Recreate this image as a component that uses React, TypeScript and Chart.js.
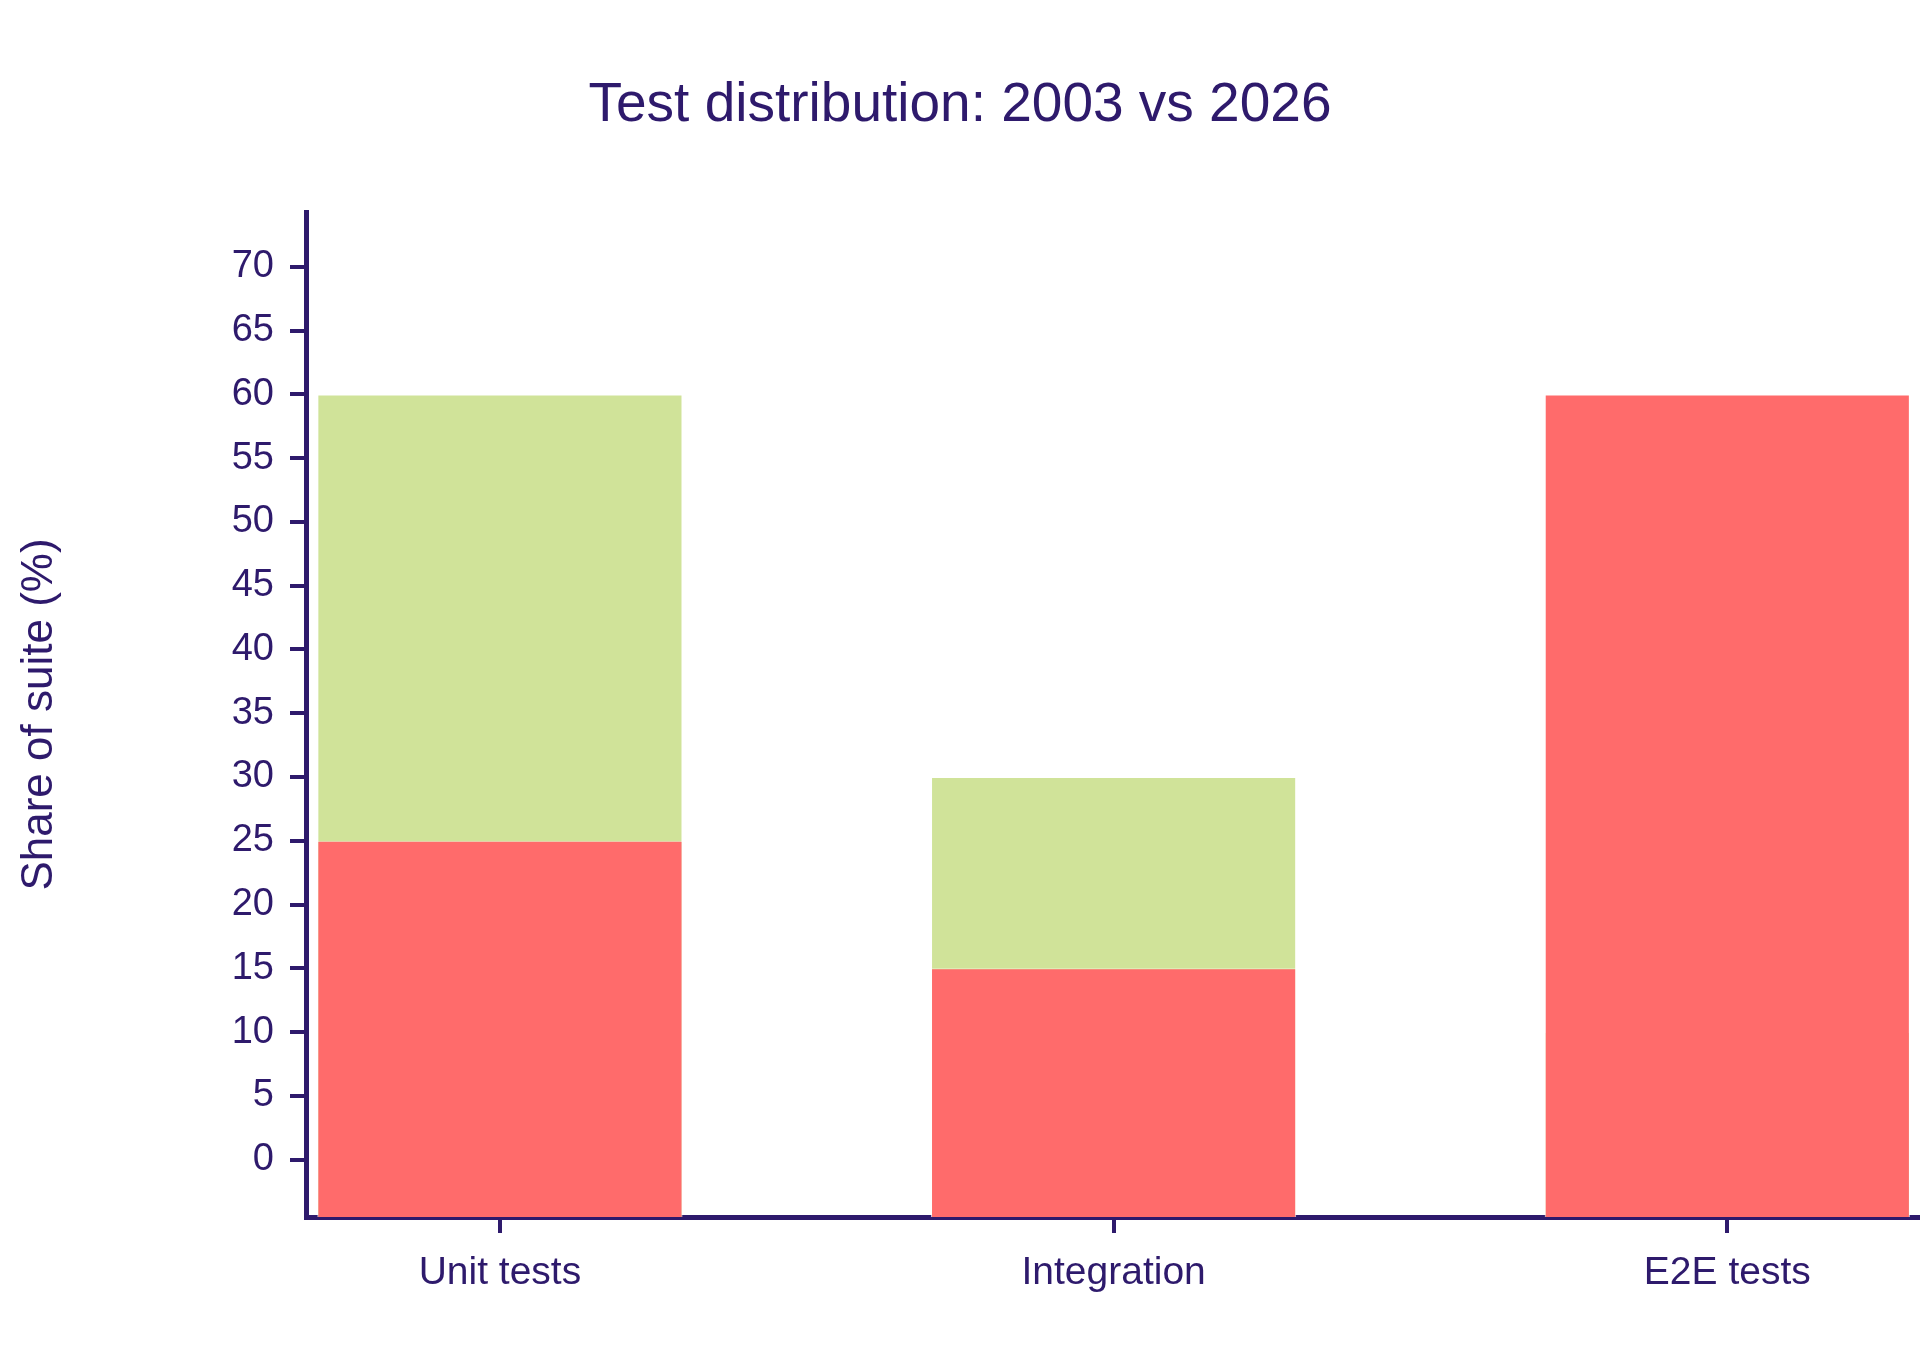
import React, { useEffect, useRef } from "react";
import { Chart, registerables } from "chart.js";

Chart.register(...registerables);

// categories and values
const CATEGORIES = ["Unit tests", "Integration", "E2E tests"];
const SHARE_2026 = [25, 15, 60];
const SHARE_2003 = [60, 30, 10];
const Y_TICKS = [0, 5, 10, 15, 20, 25, 30, 35, 40, 45, 50, 55, 60, 65, 70];

const Y_MIN = -4.5;
const Y_MAX = 74.3;
const X_MIN = -0.316;
const X_MAX = 2.314;

const INK = "rgb(46, 26, 108)";
const RED = "rgb(255, 107, 107)";
const GREEN = "rgb(208, 227, 153)";
const FONT = "'Liberation Sans', Arial, Helvetica, sans-serif";

const App: React.FC = () => {
  const canvasRef = useRef<HTMLCanvasElement>(null);
  const chartRef = useRef<Chart | null>(null);

  useEffect(() => {
    document.body.style.margin = "0";
    if (!canvasRef.current) return;
    if (chartRef.current) chartRef.current.destroy();

    const axisGrid = {
      display: true,
      drawOnChartArea: false,
      drawTicks: true,
      tickLength: 16,
      lineWidth: 4,
      tickWidth: 4,
      tickColor: INK,
      color: INK,
      offset: false,
    };

    chartRef.current = new Chart(canvasRef.current, {
      type: "bar",
      data: {
        datasets: [
          {
            label: "2026",
            data: SHARE_2026.map((v, i) => ({ x: i, y: [Y_MIN, v] })) as any,
            backgroundColor: RED,
            borderColor: "rgba(255,255,255,0.5)",
            borderWidth: 1,
          },
          {
            label: "2003",
            data: SHARE_2003.map((v, i) => ({ x: i, y: [Y_MIN, v] })) as any,
            backgroundColor: GREEN,
            borderColor: "rgba(255,255,255,0.5)",
            borderWidth: 1,
          },
        ],
      },
      options: {
        animation: false,
        responsive: true,
        maintainAspectRatio: false,
        layout: { padding: 0 },
        datasets: {
          bar: { grouped: false, barPercentage: 0.595, categoryPercentage: 1 },
        },
        plugins: {
          legend: { display: false },
          tooltip: { enabled: false },
          title: {
            display: true,
            text: "Test distribution: 2003 vs 2026",
            color: INK,
            font: { family: FONT, size: 55, weight: "normal" },
            padding: { top: 72.5, bottom: 73.5 },
          },
        },
        scales: {
          x: {
            type: "linear",
            min: X_MIN,
            max: X_MAX,
            offset: false,
            afterBuildTicks: (s: any) => {
              s.ticks = CATEGORIES.map((_, i) => ({ value: i }));
            },
            afterFit: (s: any) => {
              s.height = 154;
            },
            grid: axisGrid,
            border: { display: true, color: INK, width: 5 },
            ticks: {
              color: INK,
              font: { family: FONT, size: 39 },
              padding: 17,
              maxRotation: 0,
              autoSkip: false,
              callback: (v: any) => CATEGORIES[v] ?? "",
            },
          },
          y: {
            type: "linear",
            min: Y_MIN,
            max: Y_MAX,
            afterBuildTicks: (s: any) => {
              s.ticks = Y_TICKS.map((v) => ({ value: v }));
            },
            afterFit: (s: any) => {
              s.width = 306;
            },
            grid: axisGrid,
            border: { display: true, color: INK, width: 5 },
            ticks: {
              color: INK,
              font: { family: FONT, size: 38 },
              padding: 16,
              autoSkip: false,
              callback: (v: any) => String(v),
            },
            title: {
              display: true,
              text: "Share of suite (%)",
              color: INK,
              font: { family: FONT, size: 44 },
              padding: { top: 13, bottom: 0 },
            },
          },
        },
      },
    } as any);

    return () => {
      if (chartRef.current) {
        chartRef.current.destroy();
        chartRef.current = null;
      }
    };
  }, []);

  return (
    <div style={{ width: 1920, height: 1371, position: "relative" }}>
      <canvas ref={canvasRef} />
    </div>
  );
};

export default App;
